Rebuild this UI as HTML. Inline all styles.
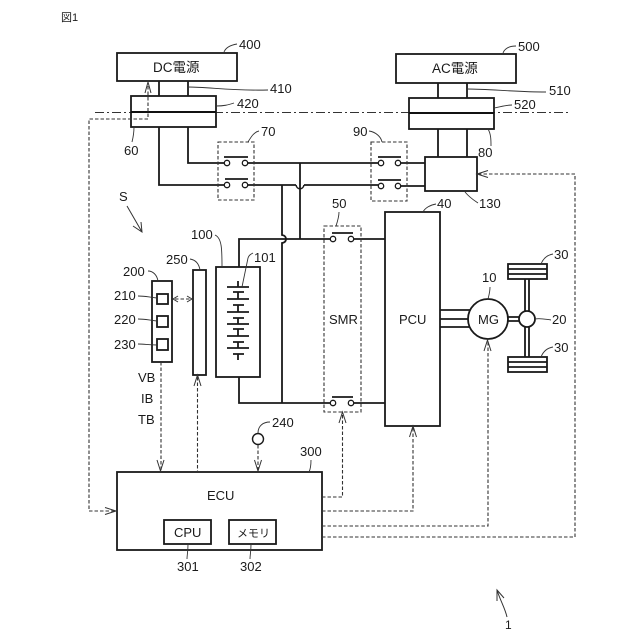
<!DOCTYPE html>
<html>
<head>
<meta charset="utf-8">
<style>
html,body{margin:0;padding:0;background:#fff;width:640px;height:640px;overflow:hidden}
svg{display:block}
text{font-family:"Liberation Sans","Noto Sans CJK JP",sans-serif;font-size:13px;fill:#1a1a1a}
.w{fill:none;stroke:#1a1a1a;stroke-width:1.8}
.b{fill:#fff;stroke:#1a1a1a;stroke-width:1.8}
.l{fill:none;stroke:#333;stroke-width:.9}
.d{fill:none;stroke:#333;stroke-width:1.1;stroke-dasharray:3.500 2}
.a{fill:none;stroke:#333;stroke-width:1}
.c{fill:#fff;stroke:#1a1a1a;stroke-width:1.300}
</style>
</head>
<body>
<svg width="640" height="640" viewBox="0 0 640 640" xmlns="http://www.w3.org/2000/svg">
<rect width="640" height="640" fill="#fff"/>
<text x="61" y="21" style="font-size:11px">図1</text>

<!-- dash-dot boundary -->
<path d="M95 112.500H570" fill="none" stroke="#333" stroke-width="1.100" stroke-dasharray="9 3 2 3"/>

<!-- wires -->
<path class="w" d="M159 81V96M188 81V96M438 83V98M467 83V98"/>
<path class="w" d="M159 127V185H227M188 127V163H227"/>
<path class="w" d="M245 163H381M398 163H425M245 185H296M304 185H381M398 186H425"/>
<path class="w" style="stroke-width:1.500" d="M296 185C297 190 303 190 304 185"/>
<path class="w" d="M438 129V157M467 129V157"/>
<path class="w" d="M300 163V239"/>
<path class="w" d="M282 185V235C285 235.500 286 237 286 239C286 241 285 242.500 282 243V403"/>
<path class="w" d="M239 267V239H333M351 239H385M239 377V403H333M351 403H385"/>

<!-- source boxes -->
<rect class="b" x="117" y="53" width="120" height="28"/>
<rect class="b" x="396" y="54" width="120" height="29"/>
<rect class="b" x="131" y="96" width="85" height="31"/>
<rect class="b" x="409" y="98" width="85" height="31"/>
<path d="M131 112H216M409 113H494" stroke="#111" stroke-width="2" fill="none"/>
<rect class="b" x="425" y="157" width="52" height="34"/>
<text x="153" y="72" style="font-size:13.500px">DC電源</text>
<text x="432" y="73" style="font-size:13.500px">AC電源</text>

<!-- relay dashed boxes -->
<rect class="d" x="218" y="142" width="36" height="58"/>
<rect class="d" x="371" y="142" width="36" height="59"/>
<rect class="d" x="324" y="226" width="37" height="186"/>

<!-- switches -->
<path class="w" d="M224 157H248M225 179H248M378 157H401M378 180H401M332 233H353M332 397H353"/>
<circle class="c" cx="227" cy="163" r="2.700"/><circle class="c" cx="245" cy="163" r="2.700"/>
<circle class="c" cx="227" cy="185" r="2.700"/><circle class="c" cx="245" cy="185" r="2.700"/>
<circle class="c" cx="381" cy="163" r="2.700"/><circle class="c" cx="398" cy="163" r="2.700"/>
<circle class="c" cx="381" cy="186" r="2.700"/><circle class="c" cx="398" cy="186" r="2.700"/>
<circle class="c" cx="333" cy="239" r="2.700"/><circle class="c" cx="351" cy="239" r="2.700"/>
<circle class="c" cx="333" cy="403" r="2.700"/><circle class="c" cx="351" cy="403" r="2.700"/>
<text x="329" y="324">SMR</text>

<!-- battery -->
<rect class="b" x="216" y="267" width="44" height="110"/>
<path class="w" d="M238 281V287M227 287H249M233 292H244M238 292V299M227 299H249M233 305H244M238 305V312M227 312H249M233 318H244M238 318V324M227 324H249M233 329H244M238 329V336M227 336H249M233 342H244M238 342V348M227 348H249M233 354H244M238 354V360"/>

<!-- 200 & 250 -->
<rect class="b" x="152" y="281" width="20" height="81"/>
<rect class="b" x="157" y="294" width="11" height="10"/>
<rect class="b" x="157" y="316" width="11" height="11"/>
<rect class="b" x="157" y="339" width="11" height="11"/>
<rect class="b" x="193" y="270" width="13" height="105"/>

<!-- PCU, MG -->
<rect class="b" x="385" y="212" width="55" height="214"/>
<text x="399" y="324">PCU</text>
<path class="w" d="M440 310H471M440 319H468M440 327H471"/>
<path class="w" d="M508 317H520M508 321H520M525 279V357M529 279V357"/>
<circle class="b" cx="488" cy="319" r="20"/>
<text x="478" y="324">MG</text>
<circle class="b" cx="527" cy="319" r="8"/>
<rect class="b" x="508" y="264" width="39" height="15"/>
<path class="w" d="M508 269H547M508 274H547"/>
<rect class="b" x="508" y="357" width="39" height="15"/>
<path class="w" d="M508 362H547M508 367H547"/>

<!-- ECU -->
<rect class="b" x="117" y="472" width="205" height="78"/>
<rect class="b" x="164" y="520" width="47" height="24"/>
<rect class="b" x="229" y="520" width="47" height="24"/>
<text x="207" y="500">ECU</text>
<text x="174" y="537">CPU</text>
<text x="237" y="537" style="font-size:11px">メモリ</text>
<circle class="b" cx="258" cy="439" r="5.500" style="stroke-width:1.400"/>

<!-- dashed signals -->
<path class="d" d="M148 86V119H89V511H116"/>
<path class="d" d="M175 299H191"/>
<path class="d" d="M161 362V471"/>
<path class="d" d="M197.500 377V472"/>
<path class="d" d="M258 445V471"/>
<path class="d" d="M322 497H342.500V414"/>
<path class="d" d="M322 511H413V428"/>
<path class="d" d="M322 526H488V342"/>
<path class="d" d="M322 537H575V174H479"/>

<!-- arrowheads -->
<path class="a" d="M145 93L148 82L151 93"/>
<path class="a" d="M178 296L173 299L178 302M187 296L192 299L187 302"/>
<path class="a" d="M157 460L160.500 471L164 460"/>
<path class="a" d="M194 386L197.500 375L201 386"/>
<path class="a" d="M254.500 460L258 471L261.500 460"/>
<path class="a" d="M339 423L342.500 412L346 423"/>
<path class="a" d="M409.500 437L413 426L416.500 437"/>
<path class="a" d="M484 351L487.500 340L491 351"/>
<path class="a" d="M488 170.500L477 174L488 177.500"/>
<path class="a" d="M105 507.500L116 511L105 514.500"/>

<!-- S and 1 arrows -->
<path class="a" d="M127 206L142 232M133 226L142 232L141 222"/>
<path class="a" d="M507 617C505 608 500 600 497 590M497 601L497 590L504 598"/>

<!-- leaders -->
<path class="l" d="M224 52C226 47 231 45 237 44"/>
<path class="l" d="M188 87C210 87 230 91 268 90"/>
<path class="l" d="M216 106C224 106 228 105 234 103"/>
<path class="l" d="M134 127C134 133 133 138 132 142"/>
<path class="l" d="M248 142C251 137 254 132 259 131"/>
<path class="l" d="M503 53C505 48 510 46 516 46"/>
<path class="l" d="M467 89C490 89 515 92 546 92"/>
<path class="l" d="M494 108C500 107 505 105 512 105"/>
<path class="l" d="M488 129C491 134 491 140 491 146"/>
<path class="l" d="M382 142C381 137 376 132 369 131"/>
<path class="l" d="M465 192C470 198 475 201 478 203"/>
<path class="l" d="M336 226C338 220 339 216 339 212"/>
<path class="l" d="M423 212C425 208 430 205 436 204"/>
<path class="l" d="M222 267C222 250 222 238 215 235"/>
<path class="l" d="M242 287L248 258C249 255 251 254 253 253"/>
<path class="l" d="M200 270C199 264 196 260 190 259"/>
<path class="l" d="M158 281C157 275 153 271 148 271"/>
<path class="l" d="M157 298C148 297 145 296 138 296"/>
<path class="l" d="M157 321C148 320 145 319 138 319"/>
<path class="l" d="M157 345C148 345 145 344 138 344"/>
<path class="l" d="M258 433C258 426 263 422 270 422"/>
<path class="l" d="M309 472C311 468 311 464 311 460"/>
<path class="l" d="M188 544C188 552 187 555 187 559M251 544C251 552 250 555 250 559"/>
<path class="l" d="M488 299C489 295 490 292 490 287"/>
<path class="l" d="M535 319C540 318 544 319 551 320"/>
<path class="l" d="M541 264C543 259 547 255 553 254"/>
<path class="l" d="M541 357C543 352 547 348 553 347"/>

<!-- labels -->
<text x="239" y="49">400</text>
<text x="270" y="93">410</text>
<text x="237" y="108">420</text>
<text x="124" y="155">60</text>
<text x="261" y="136">70</text>
<text x="119" y="201">S</text>
<text x="518" y="51">500</text>
<text x="549" y="95">510</text>
<text x="514" y="109">520</text>
<text x="478" y="157">80</text>
<text x="353" y="136">90</text>
<text x="479" y="208">130</text>
<text x="332" y="208">50</text>
<text x="437" y="208">40</text>
<text x="191" y="239">100</text>
<text x="254" y="262">101</text>
<text x="166" y="264">250</text>
<text x="123" y="276">200</text>
<text x="114" y="300">210</text>
<text x="114" y="324">220</text>
<text x="114" y="349">230</text>
<text x="138" y="382">VB</text>
<text x="141" y="403">IB</text>
<text x="138" y="424">TB</text>
<text x="272" y="427">240</text>
<text x="300" y="456">300</text>
<text x="177" y="571">301</text>
<text x="240" y="571">302</text>
<text x="482" y="282">10</text>
<text x="554" y="259">30</text>
<text x="554" y="352">30</text>
<text x="552" y="324">20</text>
<text x="505" y="629" style="font-size:12px">1</text>
</svg>
</body>
</html>
